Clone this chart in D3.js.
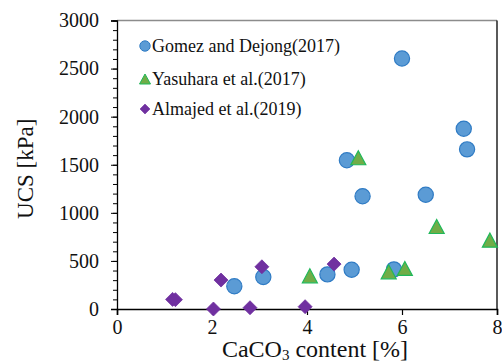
<!DOCTYPE html>
<html>
<head>
<meta charset="utf-8">
<script src="https://cdn.jsdelivr.net/npm/d3@7/dist/d3.min.js"></script>
<style>
  html, body { margin: 0; padding: 0; background: #fff; }
  svg, svg text { font-family: 'Liberation Serif', 'Times New Roman', serif; }
</style>
</head>
<body>
<div id="chart"></div>
<script>
// CaCO3 content [%] vs UCS [kPa] for three studies
const seriesNames = ["Gomez and Dejong(2017)", "Yasuhara et al.(2017)", "Almajed et al.(2019)"];

const gomezCaCO3 = [6.0, 7.3, 7.37, 4.84, 5.17, 6.5, 4.43, 4.94, 5.83, 2.47, 3.08];
const gomezUCS   = [2605, 1875, 1660, 1547, 1173, 1188, 360, 408, 412, 236, 332];

const yasuharaCaCO3 = [5.08, 6.73, 7.85, 4.06, 5.72, 6.06];
const yasuharaUCS   = [1573, 858, 716, 345, 387, 422];

const almajedCaCO3 = [1.17, 1.23, 2.03, 2.19, 2.8, 3.05, 3.96, 4.57];
const almajedUCS   = [100, 97, 0, 301, 13, 439, 24, 467];

const xTicks = [0, 2, 4, 6, 8];
const yTicks = [0, 500, 1000, 1500, 2000, 2500, 3000];

const width = 502, height = 363;
const margin = { left: 117, right: 5, top: 20.5, bottom: 54 };
const serif = "'Liberation Serif', 'Times New Roman', serif";

const svg = d3.select("#chart").append("svg")
  .attr("width", width).attr("height", height)
  .attr("font-family", serif);

const x = d3.scaleLinear().domain([0, 8]).range([margin.left, width - margin.right]);
const y = d3.scaleLinear().domain([0, 3000]).range([height - margin.bottom, margin.top]);

// plot frame: top edge grey, right edge black
svg.append("line")
  .attr("x1", x(0)).attr("x2", x(8)).attr("y1", y(3000)).attr("y2", y(3000))
  .attr("stroke", "#8c8c8c").attr("stroke-width", 1.6);
svg.append("line")
  .attr("x1", x(8)).attr("x2", x(8)).attr("y1", y(3000)).attr("y2", y(0))
  .attr("stroke", "#000").attr("stroke-width", 1.3);

// y axis with minor ticks every 100 kPa
const yMinor = d3.range(0, 3001, 100);
const gyMinor = svg.append("g").attr("transform", `translate(${x(0)},0)`)
  .call(d3.axisLeft(y).tickValues(yMinor).tickSize(4).tickFormat(""));
gyMinor.select(".domain").remove();
gyMinor.selectAll("line").attr("stroke", "#000").attr("stroke-width", 1);

const gy = svg.append("g").attr("transform", `translate(${x(0)},0)`)
  .call(d3.axisLeft(y).tickValues(yTicks).tickSize(6).tickPadding(12).tickFormat(d3.format("d")));
gy.attr("font-family", serif).attr("font-size", 20);
gy.select(".domain").attr("stroke", "#000").attr("stroke-width", 1.3);
gy.selectAll("line").attr("stroke", "#000");
gy.selectAll("text").attr("fill", "#111");

const gx = svg.append("g").attr("transform", `translate(0,${y(0)})`)
  .call(d3.axisBottom(x).tickValues(xTicks).tickSize(6).tickPadding(5));
gx.attr("font-family", serif).attr("font-size", 20);
gx.select(".domain").attr("stroke", "#000").attr("stroke-width", 1.6);
gx.selectAll("line").attr("stroke", "#000").attr("stroke-width", 1.2);
gx.selectAll("text").attr("fill", "#111");

// marker shapes, centred on their bounding box
function trianglePath(cx, cy, w, h) {
  return `M${cx},${cy - h / 2}L${cx + w / 2},${cy + h / 2}L${cx - w / 2},${cy + h / 2}Z`;
}
function diamondPath(cx, cy, w, h) {
  return `M${cx},${cy - h / 2}L${cx + w / 2},${cy}L${cx},${cy + h / 2}L${cx - w / 2},${cy}Z`;
}

const blueFill = "#5b9bd5", blueStroke = "#2f7bc4";
const greenFill = "#70ad47", greenStroke = "#1fb85a";
const purple = "#7030a0";

const plot = svg.append("g");

const gomez = gomezCaCO3.map((c, i) => ({ c, u: gomezUCS[i] }));
const yasuhara = yasuharaCaCO3.map((c, i) => ({ c, u: yasuharaUCS[i] }));
const almajed = almajedCaCO3.map((c, i) => ({ c, u: almajedUCS[i] }));

plot.selectAll("circle.gomez").data(gomez).join("circle")
  .attr("class", "gomez")
  .attr("cx", d => x(d.c)).attr("cy", d => y(d.u)).attr("r", 7.6)
  .attr("fill", blueFill).attr("stroke", blueStroke).attr("stroke-width", 1.2);

plot.selectAll("path.yasuhara").data(yasuhara).join("path")
  .attr("class", "yasuhara")
  .attr("d", d => trianglePath(x(d.c), y(d.u), 15, 14))
  .attr("fill", greenFill).attr("stroke", greenStroke).attr("stroke-width", 1.2);

plot.selectAll("path.almajed").data(almajed).join("path")
  .attr("class", "almajed")
  .attr("d", d => diamondPath(x(d.c), y(d.u), 14, 14))
  .attr("fill", purple).attr("stroke", purple).attr("stroke-width", 0.8);

// legend
const legend = svg.append("g").attr("font-family", serif);
const legendRows = [46, 79, 109];
const lx = 145;
legend.append("circle").attr("cx", lx).attr("cy", legendRows[0]).attr("r", 5.2)
  .attr("fill", blueFill).attr("stroke", blueStroke).attr("stroke-width", 1);
legend.append("path").attr("d", trianglePath(lx, legendRows[1], 11, 10))
  .attr("fill", greenFill).attr("stroke", greenStroke).attr("stroke-width", 1);
legend.append("path").attr("d", diamondPath(lx, legendRows[2], 10, 10))
  .attr("fill", purple).attr("stroke", purple).attr("stroke-width", 0.6);
legend.selectAll("text").data(seriesNames).join("text")
  .attr("x", lx + 7).attr("y", (d, i) => legendRows[i])
  .attr("dy", "0.35em")
  .attr("font-size", 18).attr("fill", "#111")
  .text(d => d);

// axis titles
svg.append("text")
  .attr("transform", `translate(33,${(y(0) + y(3000)) / 2 + 4}) rotate(-90)`)
  .attr("text-anchor", "middle").attr("font-size", 23).attr("fill", "#111")
  .text("UCS [kPa]");

const xt = svg.append("text")
  .attr("x", 315).attr("y", 357)
  .attr("text-anchor", "middle").attr("font-size", 24).attr("fill", "#111");
xt.append("tspan").text("CaCO");
xt.append("tspan").attr("font-size", 15).attr("dy", 3).text("3");
xt.append("tspan").attr("dy", -3).text(" content [%]");
</script>
</body>
</html>
